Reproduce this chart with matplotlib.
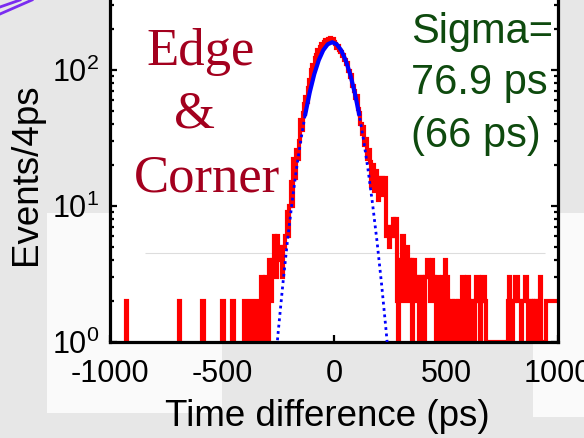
import matplotlib.pyplot as plt
from matplotlib.patches import Rectangle
from matplotlib.lines import Line2D
from matplotlib.ticker import NullFormatter, LogLocator

plt.rcParams['font.family'] = ['Liberation Sans', 'DejaVu Sans']
plt.rcParams['mathtext.fontset'] = 'custom'
plt.rcParams['mathtext.rm'] = 'Liberation Sans'
plt.rcParams['axes.unicode_minus'] = False

# histogram of time differences, read as steps: left edge (ps) and events per 4 ps bin
step_start = [-1000, -928, -922, -694, -688, -590, -580, -498, -492, -456, -446, -402, -394,
              -374, -368, -350, -340, -326, -316, -310, -300, -292, -282, -278, -268, -262,
              -256, -248, -240, -232, -226, -218, -212, -206, -200, -194, -188, -182, -176,
              -170, -164, -158, -152, -146, -140, -134, -128, -122, -116, -110, -104, -98,
              -92, -86, -80, -74, -68, -62, -56, -50, -44, -38, -32, -26, -20, -14, -8, -2,
              4, 10, 16, 22, 28, 34, 40, 46, 52, 58, 64, 70, 76, 82, 88, 94, 100, 106, 112,
              118, 124, 130, 136, 142, 148, 154, 160, 166, 172, 178, 184, 190, 196, 202, 208,
              214, 220, 226, 232, 238, 244, 250, 256, 262, 268, 274, 280, 284, 288, 294, 298,
              304, 312, 318, 322, 326, 332, 338, 342, 350, 354, 360, 366, 370, 380, 384, 392,
              396, 402, 406, 414, 422, 428, 432, 436, 442, 450, 456, 460, 468, 474, 478, 484,
              490, 494, 502, 508, 514, 518, 530, 534, 548, 552, 566, 572, 582, 588, 592, 602,
              608, 612, 626, 630, 634, 646, 652, 656, 662, 674, 680, 776, 780, 786, 792, 798,
              808, 822, 836, 840, 852, 860, 866, 872, 878, 882, 888, 894, 900, 904, 912, 918,
              926, 948, 1000]
step_counts = [0, 2, 0, 2, 0, 2, 0, 2, 0, 2, 0, 2, 0,
               2, 0, 2, 0, 3, 1, 3, 1, 4, 2, 4, 6, 3,
               6, 4, 5, 3, 5, 6, 9, 6, 10, 15, 10, 22, 16,
               26, 22, 30, 43, 36, 48, 56, 63, 58, 74, 84, 100, 109,
               104, 122, 128, 140, 136, 148, 156, 150, 162, 166, 158, 170, 172, 164, 168, 160,
               156, 146, 150, 140, 136, 126, 130, 118, 110, 112, 98, 89, 92, 76, 70, 62, 64, 52, 48,
               40, 34, 38, 28, 31, 22, 26, 21, 14, 20, 13, 18, 16, 11, 16, 14,
               16, 12, 16, 6, 7, 5, 7, 6, 8, 6, 8, 2, 1, 4, 2,
               4, 6, 4, 2, 4, 5, 4, 2, 4, 1, 4, 3, 2, 3, 1, 3,
               2, 3, 1, 3, 4, 3, 2, 3, 4, 3, 2, 1, 3, 2, 1, 2,
               3, 1, 4, 3, 2, 1, 2, 1, 2, 1, 2, 1, 3, 2, 1, 3,
               2, 1, 2, 1, 2, 3, 2, 1, 2, 3, 2, 1, 2, 3, 2, 1,
               2, 3, 2, 1, 2, 3, 2, 1, 2, 1, 2, 1, 2, 1, 2, 1,
               3, 1, 2]

# gaussian fit (sigma = 76.9 ps)
fit_x = [-268, -248, -228, -208, -188, -168, -148, -128, -108, -88, -68, -48, -28, -8,
         12, 32, 52, 72, 92, 112, 132, 152, 172, 192, 212, 232, 252]
fit_y = [0.54, 1.24, 2.7, 5.5, 10.4, 18.5, 30.6, 47.5, 68.8, 93.3, 118.1, 139.8, 154.7, 160,
         154.7, 139.8, 118.1, 93.3, 68.8, 47.5, 30.6, 18.5, 10.4, 5.5, 2.7, 1.24, 0.54]
fit_range = (-130, 115)

W, H = 584, 438


def fx(px):
    return px / W


def fy(py):
    return 1 - py / H


fig = plt.figure(figsize=(W / 100, H / 100), dpi=100, facecolor='#e7e7e7')

# slide background pieces
for x0, y0, x1, y1 in [(47, 213, 222, 413), (533, 213, 584, 417)]:
    fig.patches.append(Rectangle((fx(x0), fy(y1)), fx(x1) - fx(x0), fy(y0) - fy(y1),
                                 transform=fig.transFigure, facecolor='#fafafa',
                                 edgecolor='none', zorder=-1))
fig.lines.append(Line2D([fx(0), fx(32)], [fy(14), fy(0)], transform=fig.transFigure,
                        color='#7a2cf0', lw=2))
fig.lines.append(Line2D([fx(0), fx(20)], [fy(7), fy(0)], transform=fig.transFigure,
                        color='#7a2cf0', lw=2))

ax = fig.add_axes([fx(110), fy(342), fx(558) - fx(110), fy(-25.2) - fy(342)])
ax.set_facecolor('white')
ax.set_yscale('log')

ax.hlines(4.5, -844, 942, color='#dddddd', lw=0.8, zorder=0.5)

ax.stairs(step_counts, step_start, color='red', lw=3, baseline=None, zorder=2)

ax.plot(fit_x, fit_y, color='blue', lw=2, ls=(0, (1, 1.3)), zorder=3)
sx = [x for x in fit_x if fit_range[0] <= x <= fit_range[1]]
sy = [y for x, y in zip(fit_x, fit_y) if fit_range[0] <= x <= fit_range[1]]
ax.plot(sx, sy, color='blue', lw=3, zorder=4)

ax.set_xlim(-1000, 1000)
ax.set_ylim(1, 10 ** 2.7)
ax.set_xticks([-1000, -500, 0, 500, 1000])
ax.yaxis.set_major_locator(LogLocator(base=10, numticks=10))
ax.yaxis.set_minor_locator(LogLocator(base=10, subs=range(2, 10), numticks=20))
ax.yaxis.set_minor_formatter(NullFormatter())

for s in ax.spines.values():
    s.set_linewidth(2.3)
ax.tick_params(which='both', direction='in', right=True, top=False, width=1.6,
               labelsize=22, colors='black')
ax.tick_params(which='major', length=5)
ax.tick_params(which='minor', length=3)
ax.tick_params(axis='y', pad=8)
ax.tick_params(axis='x', pad=12)

fig.text(fx(27), fy(174), 'Events/4ps', rotation=90, ha='center', va='center', fontsize=26.5)
fig.text(fx(327), fy(426), 'Time difference (ps)', ha='center', va='baseline', fontsize=26.5)

red = '#a3001e'
fig.text(fx(201), fy(65), 'Edge', ha='center', va='baseline', fontsize=38,
         family='Liberation Serif', color=red)
fig.text(fx(195), fy(128), '&', ha='center', va='baseline', fontsize=38,
         family='Liberation Serif', color=red)
fig.text(fx(207), fy(192), 'Corner', ha='center', va='baseline', fontsize=38,
         family='Liberation Serif', color=red)

green = '#0e4a0e'
fig.text(fx(411), fy(43), 'Sigma=', ha='left', va='baseline', fontsize=30, color=green)
fig.text(fx(411), fy(94), '76.9 ps', ha='left', va='baseline', fontsize=30, color=green)
fig.text(fx(411), fy(147), '(66 ps)', ha='left', va='baseline', fontsize=30, color=green)

fig.savefig('out.png', dpi=100, facecolor=fig.get_facecolor())
